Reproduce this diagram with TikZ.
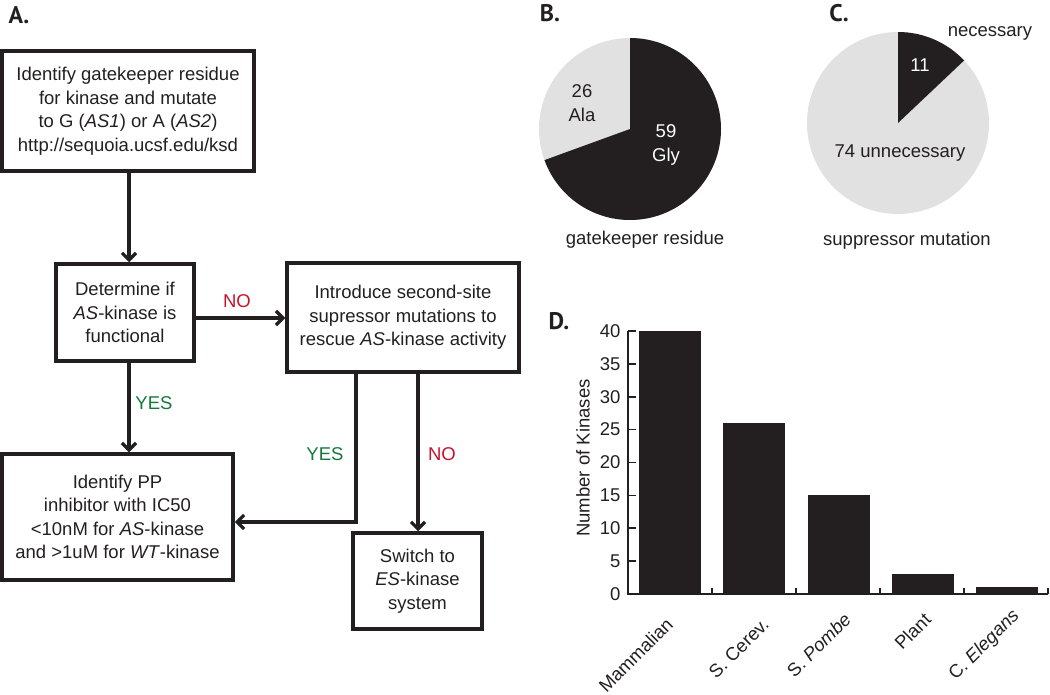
\documentclass[tikz,border=0pt]{standalone}
\usepackage{fontspec}
\setmainfont{Liberation Sans}
\newfontfamily\lblfont{PT Sans}
\usetikzlibrary{arrows.meta}
\definecolor{ink}{RGB}{35,31,32}
\definecolor{nored}{RGB}{200,16,46}
\definecolor{yesgreen}{RGB}{20,120,60}
\definecolor{piegray}{RGB}{225,225,225}
\begin{document}
\begin{tikzpicture}[x=1pt,y=-1pt,
  every node/.style={font=\fontsize{18.5}{23.5}\selectfont, text=ink},
  panel/.style={font=\lblfont\bfseries\fontsize{24}{26}\selectfont, anchor=center},
  box/.style={draw=ink, line width=3.5pt, rectangle, inner sep=0pt, align=center},
  flow/.style={draw=ink, line width=3.3pt, -{Straight Barb[length=7pt,width=14pt]}},
  nolbl/.style={text=nored},
  yeslbl/.style={text=yesgreen},
  axis/.style={draw=ink, line width=1.7pt},
  bar/.style={fill=ink},
  xlbl/.style={rotate=45, anchor=east}
]
\useasboundingbox (0,0) rectangle (1050,695);

% ---------- Panel A ----------
\node[panel] (lA) at (19,15) {A.};
\node[box, minimum width=252pt, minimum height=120pt] (b1) at (128,111)
  {Identify gatekeeper residue\\for kinase and mutate\\to G (\textit{AS1}) or A (\textit{AS2})\\http://sequoia.ucsf.edu/ksd};
\node[box, minimum width=138pt, minimum height=97pt] (b2) at (125,312.5)
  {Determine if\\\textit{AS}-kinase is\\functional};
\node[box, minimum width=232pt, minimum height=109pt] (b3) at (403,317.5)
  {Introduce second-site\\supressor mutations to\\rescue \textit{AS}-kinase activity};
\node[box, minimum width=231pt, minimum height=126pt] (b4) at (117.5,517)
  {Identify PP\\inhibitor with IC50\\<10nM for \textit{AS}-kinase\\and >1uM for \textit{WT}-kinase};
\node[box, minimum width=129pt, minimum height=96pt] (b5) at (417.5,581)
  {Switch to\\\textit{ES}-kinase\\system};

\draw[flow] ([xshift=1pt]b1.south) -- ([xshift=1pt]b1.south |- b2.north);
\draw[flow] ([yshift=-5.5pt]b2.east) -- ([yshift=-5.5pt]b2.east -| b3.west);
\draw[flow] ([xshift=4pt]b2.south) -- ([xshift=4pt]b2.south |- b4.north);
\draw[flow] ([xshift=-47pt]b3.south) |- ([yshift=-5pt]b4.east);
\draw[flow] ([xshift=15pt]b3.south) -- ([xshift=15pt]b3.south |- b5.north);

\node[nolbl] (l1) at (237,301) {NO};
\node[yeslbl] (l2) at (154,403) {YES};
\node[yeslbl] (l3) at (325,454) {YES};
\node[nolbl] (l4) at (442,454) {NO};

% ---------- Panel B ----------
\node[panel] (lB) at (550,13) {B.};
\coordinate (pB) at (630,129);
\fill[piegray] (pB) circle[radius=91pt];
\fill[ink] (pB) -- ++(90:91pt) arc[start angle=90, end angle=-160, radius=91pt] -- cycle;
\node[align=center] (ala) at (582,103) {26\\Ala};
\node[align=center, text=white] (gly) at (666,145) {59\\Gly};
\node (capB) at (645,240) {gatekeeper residue};

% ---------- Panel C ----------
\node[panel] (lC) at (839,13) {C.};
\coordinate (pC) at (898,123);
\fill[piegray] (pC) circle[radius=91pt];
\fill[ink] (pC) -- ++(90:91pt) arc[start angle=90, end angle=43.4, radius=91pt] -- cycle;
\node[text=white] (n11) at (920,65) {11};
\node (nec) at (990,33) {necessary};
\node (unn) at (900,153) {74 unnecessary};
\node (capC) at (907,241) {suppressor mutation};

% ---------- Panel D ----------
\node[panel] (lD) at (559,321) {D.};
\foreach \c/\v in {670/40, 754/26, 839/15, 923/3, 1007/1}
  \fill[bar] (\c-31,594) rectangle (\c+31,{594-6.575*\v});
\draw[axis] (628,331) -- (628,594) -- (1048,594);
\foreach \v in {0,5,...,40} {
  \draw[axis] (628,{594-6.575*\v}) -- (636,{594-6.575*\v});
  \node[anchor=east] at (624,{594-6.575*\v}) {\v};
}
\foreach \x in {712,796,880,964,1048}
  \draw[axis] (\x,594) -- (\x,588);
\node[rotate=90] (ylab) at (583,458) {Number of Kinases};
\node[xlbl] (x1) at (672,619) {Mammalian};
\node[xlbl] (x2) at (768,619) {S. Cerev.};
\node[xlbl] (x3) at (850,614) {S. \textit{Pombe}};
\node[xlbl] (x4) at (930,614) {Plant};
\node[xlbl] (x5) at (1019,611) {C. \textit{Elegans}};
\end{tikzpicture}
\end{document}
